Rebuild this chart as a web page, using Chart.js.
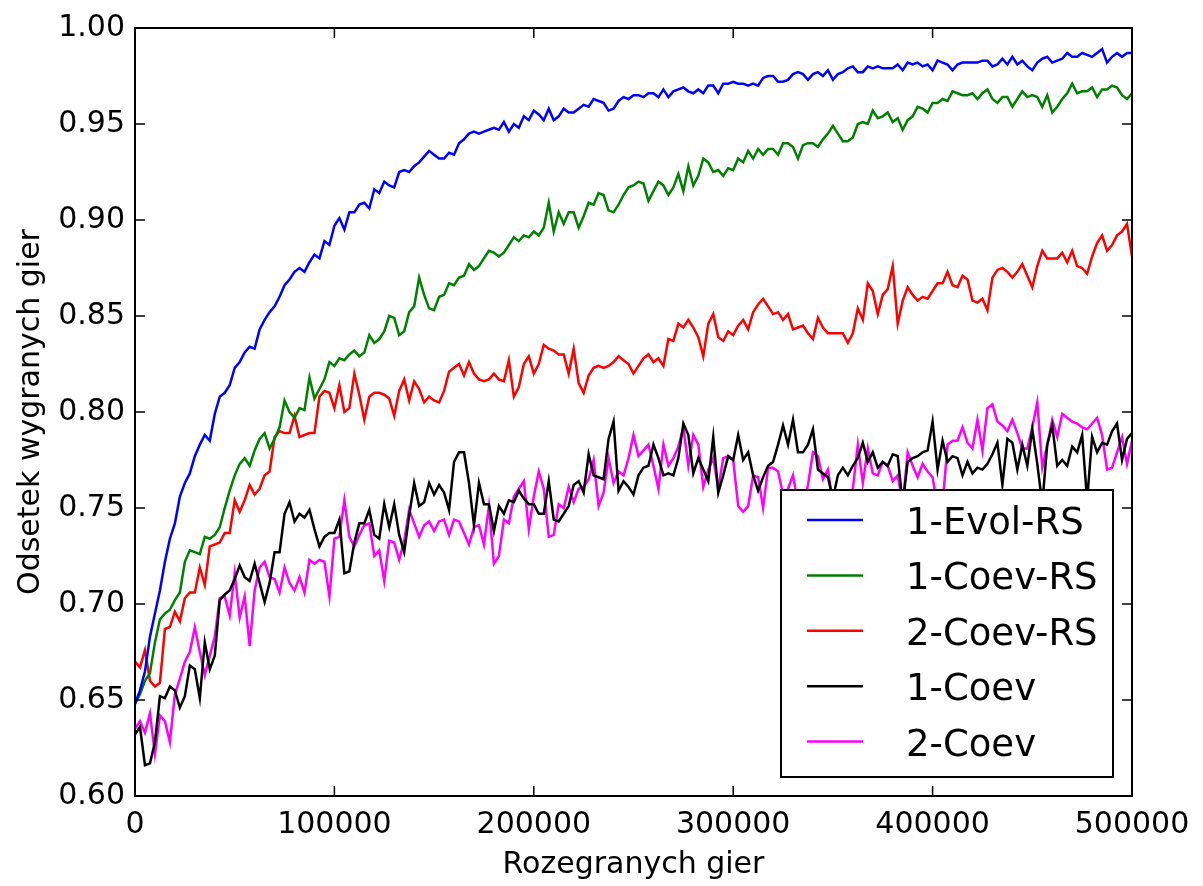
<!DOCTYPE html>
<html>
<head>
<meta charset="utf-8">
<script src="https://cdn.jsdelivr.net/npm/chart.js@4.4.0/dist/chart.umd.min.js"></script>
<style>
  html, body { margin: 0; padding: 0; background: #fff; }
  canvas { display: block; }
</style>
</head>
<body>
<canvas id="chart" width="1203" height="886"></canvas>
<script>
// one sample every 2500 games, 0 .. 500000
const sampleStep = 2500;
const xTicks = [0, 100000, 200000, 300000, 400000, 500000];
const yTicks = [0.60, 0.65, 0.70, 0.75, 0.80, 0.85, 0.90, 0.95, 1.00];
const seriesNames = ["1-Evol-RS", "1-Coev-RS", "2-Coev-RS", "1-Coev", "2-Coev"];
const seriesColors = ["#0000ff", "#008000", "#ff0000", "#000000", "#ff00ff"];

const evolRS1 = [
  0.648, 0.655, 0.665, 0.683, 0.695, 0.707, 0.722, 0.734, 0.742, 0.756,
  0.763, 0.768, 0.777, 0.783, 0.788, 0.785, 0.799, 0.808, 0.810, 0.814,
  0.823, 0.826, 0.831, 0.834, 0.833, 0.843, 0.848, 0.852, 0.855, 0.860,
  0.866, 0.869, 0.873, 0.875, 0.873, 0.878, 0.882, 0.880, 0.889, 0.887,
  0.897, 0.901, 0.895, 0.904, 0.904, 0.908, 0.909, 0.906, 0.916, 0.914,
  0.920, 0.918, 0.917, 0.925, 0.926, 0.925, 0.928, 0.930, 0.933, 0.936,
  0.934, 0.932, 0.932, 0.935, 0.934, 0.940, 0.942, 0.945, 0.946, 0.945,
  0.946, 0.947, 0.948, 0.947, 0.951, 0.946, 0.950, 0.948, 0.954, 0.952,
  0.957, 0.955, 0.952, 0.958, 0.952, 0.954, 0.958, 0.956, 0.956, 0.958,
  0.960, 0.959, 0.963, 0.962, 0.961, 0.957, 0.958, 0.962, 0.964, 0.963,
  0.965, 0.965, 0.964, 0.966, 0.966, 0.964, 0.968, 0.964, 0.967, 0.968,
  0.969, 0.967, 0.966, 0.968, 0.966, 0.970, 0.970, 0.966, 0.971, 0.971,
  0.972, 0.971, 0.971, 0.970, 0.971, 0.970, 0.974, 0.975, 0.975, 0.972,
  0.972, 0.973, 0.976, 0.977, 0.976, 0.973, 0.976, 0.977, 0.975, 0.978,
  0.973, 0.976, 0.977, 0.979, 0.980, 0.977, 0.977, 0.980, 0.979, 0.980,
  0.979, 0.979, 0.979, 0.981, 0.978, 0.982, 0.981, 0.982, 0.980, 0.981,
  0.978, 0.983, 0.982, 0.981, 0.978, 0.981, 0.982, 0.982, 0.982, 0.982,
  0.983, 0.983, 0.980, 0.981, 0.984, 0.981, 0.985, 0.981, 0.983, 0.980,
  0.978, 0.982, 0.984, 0.985, 0.982, 0.983, 0.984, 0.987, 0.985, 0.985,
  0.987, 0.986, 0.985, 0.987, 0.989, 0.982, 0.985, 0.987, 0.985, 0.987,
  0.987
];

const coevRS1 = [
  0.648, 0.653, 0.660, 0.664, 0.680, 0.692, 0.695, 0.697, 0.702, 0.706,
  0.722, 0.728, 0.727, 0.726, 0.735, 0.734, 0.736, 0.740, 0.750, 0.759,
  0.767, 0.773, 0.776, 0.772, 0.780, 0.786, 0.789, 0.781, 0.786, 0.792,
  0.806, 0.800, 0.797, 0.802, 0.801, 0.818, 0.807, 0.812, 0.817, 0.826,
  0.824, 0.828, 0.827, 0.830, 0.832, 0.829, 0.831, 0.840, 0.836, 0.838,
  0.842, 0.850, 0.849, 0.840, 0.842, 0.852, 0.855, 0.870, 0.861, 0.854,
  0.853, 0.860, 0.861, 0.867, 0.866, 0.870, 0.871, 0.877, 0.874, 0.876,
  0.880, 0.884, 0.883, 0.881, 0.883, 0.887, 0.891, 0.889, 0.892, 0.891,
  0.894, 0.892, 0.896, 0.909, 0.894, 0.904, 0.898, 0.904, 0.904, 0.896,
  0.902, 0.909, 0.908, 0.914, 0.913, 0.905, 0.904, 0.908, 0.913, 0.917,
  0.918, 0.920, 0.919, 0.910, 0.915, 0.920, 0.918, 0.913, 0.917, 0.924,
  0.915, 0.928, 0.918, 0.923, 0.932, 0.930, 0.925, 0.926, 0.923, 0.927,
  0.926, 0.932, 0.930, 0.936, 0.932, 0.937, 0.934, 0.937, 0.937, 0.934,
  0.940, 0.940, 0.938, 0.932, 0.939, 0.940, 0.940, 0.938, 0.942, 0.945,
  0.949, 0.945, 0.941, 0.941, 0.943, 0.950, 0.951, 0.950, 0.957, 0.953,
  0.954, 0.956, 0.951, 0.953, 0.947, 0.952, 0.954, 0.959, 0.958, 0.956,
  0.961, 0.961, 0.963, 0.962, 0.967, 0.966, 0.965, 0.965, 0.966, 0.963,
  0.966, 0.968, 0.963, 0.961, 0.964, 0.964, 0.959, 0.963, 0.967, 0.964,
  0.965, 0.964, 0.959, 0.965, 0.956, 0.959, 0.963, 0.966, 0.971, 0.966,
  0.967, 0.967, 0.969, 0.964, 0.968, 0.968, 0.970, 0.969, 0.965, 0.963,
  0.966
];

const coevRS2 = [
  0.670, 0.667, 0.676, 0.660, 0.657, 0.659, 0.687, 0.688, 0.696, 0.691,
  0.703, 0.706, 0.706, 0.719, 0.710, 0.730, 0.731, 0.732, 0.737, 0.737,
  0.754, 0.748, 0.754, 0.762, 0.757, 0.760, 0.767, 0.769, 0.787, 0.790,
  0.789, 0.789, 0.798, 0.787, 0.788, 0.789, 0.789, 0.808, 0.811, 0.810,
  0.802, 0.814, 0.800, 0.802, 0.820, 0.809, 0.796, 0.808, 0.810, 0.810,
  0.809, 0.807, 0.798, 0.811, 0.817, 0.806, 0.816, 0.812, 0.805, 0.808,
  0.806, 0.805, 0.811, 0.821, 0.823, 0.825, 0.819, 0.826, 0.820, 0.817,
  0.816, 0.817, 0.820, 0.817, 0.816, 0.827, 0.808, 0.813, 0.825, 0.829,
  0.820, 0.825, 0.835, 0.833, 0.832, 0.830, 0.830, 0.820, 0.833, 0.815,
  0.810, 0.819, 0.823, 0.824, 0.823, 0.824, 0.826, 0.829, 0.827, 0.825,
  0.820, 0.824, 0.828, 0.830, 0.826, 0.828, 0.824, 0.838, 0.837, 0.846,
  0.844, 0.848, 0.844, 0.839, 0.829, 0.846, 0.851, 0.839, 0.837, 0.842,
  0.840, 0.845, 0.848, 0.843, 0.852, 0.856, 0.859, 0.855, 0.851, 0.852,
  0.848, 0.851, 0.843, 0.844, 0.845, 0.841, 0.838, 0.849, 0.844, 0.841,
  0.841, 0.841, 0.841, 0.836, 0.841, 0.854, 0.848, 0.867, 0.863, 0.851,
  0.861, 0.864, 0.876, 0.846, 0.858, 0.865, 0.861, 0.858, 0.860, 0.859,
  0.863, 0.867, 0.867, 0.873, 0.866, 0.865, 0.871, 0.869, 0.858, 0.857,
  0.859, 0.853, 0.870, 0.874, 0.875, 0.873, 0.870, 0.873, 0.877, 0.871,
  0.865, 0.876, 0.884, 0.880, 0.880, 0.880, 0.883, 0.878, 0.884, 0.876,
  0.875, 0.872, 0.881, 0.888, 0.892, 0.884, 0.887, 0.892, 0.894, 0.898,
  0.881
];

const coev1 = [
  0.632, 0.636, 0.616, 0.617, 0.628, 0.652, 0.651, 0.657, 0.655, 0.646,
  0.652, 0.668, 0.666, 0.651, 0.680, 0.666, 0.673, 0.702, 0.705, 0.707,
  0.713, 0.720, 0.714, 0.712, 0.721, 0.711, 0.701, 0.711, 0.727, 0.727,
  0.747, 0.753, 0.743, 0.747, 0.745, 0.749, 0.739, 0.730, 0.735, 0.737,
  0.737, 0.744, 0.716, 0.717, 0.732, 0.742, 0.742, 0.749, 0.736, 0.734,
  0.752, 0.740, 0.752, 0.736, 0.727, 0.746, 0.763, 0.751, 0.753, 0.763,
  0.757, 0.762, 0.758, 0.749, 0.774, 0.779, 0.779, 0.763, 0.741, 0.763,
  0.752, 0.752, 0.738, 0.751, 0.747, 0.754, 0.753, 0.759, 0.755, 0.752,
  0.752, 0.747, 0.747, 0.764, 0.744, 0.743, 0.747, 0.751, 0.762, 0.764,
  0.758, 0.778, 0.767, 0.766, 0.765, 0.786, 0.795, 0.759, 0.764, 0.761,
  0.757, 0.767, 0.771, 0.772, 0.783, 0.776, 0.767, 0.768, 0.767, 0.776,
  0.794, 0.788, 0.768, 0.776, 0.770, 0.764, 0.787, 0.758, 0.767, 0.777,
  0.775, 0.788, 0.775, 0.779, 0.767, 0.759, 0.766, 0.772, 0.774, 0.783,
  0.793, 0.783, 0.796, 0.779, 0.779, 0.783, 0.791, 0.770, 0.768, 0.766,
  0.755, 0.767, 0.771, 0.767, 0.772, 0.776, 0.784, 0.774, 0.779, 0.771,
  0.774, 0.772, 0.778, 0.777, 0.752, 0.774, 0.776, 0.777, 0.779, 0.780,
  0.795, 0.770, 0.785, 0.774, 0.777, 0.776, 0.767, 0.774, 0.768, 0.771,
  0.770, 0.773, 0.778, 0.784, 0.762, 0.786, 0.784, 0.770, 0.783, 0.772,
  0.791, 0.773, 0.752, 0.783, 0.793, 0.772, 0.775, 0.772, 0.782, 0.779,
  0.788, 0.754, 0.787, 0.779, 0.784, 0.783, 0.790, 0.794, 0.775, 0.786,
  0.789
];

const coev2 = [
  0.635, 0.639, 0.633, 0.643, 0.622, 0.642, 0.639, 0.628, 0.653, 0.661,
  0.670, 0.675, 0.688, 0.675, 0.663, 0.673, 0.683, 0.703, 0.704, 0.694,
  0.716, 0.693, 0.704, 0.678, 0.707, 0.719, 0.722, 0.714, 0.713, 0.706,
  0.719, 0.711, 0.707, 0.714, 0.706, 0.723, 0.721, 0.723, 0.722, 0.704,
  0.734, 0.735, 0.754, 0.735, 0.730, 0.736, 0.741, 0.742, 0.725, 0.728,
  0.712, 0.733, 0.732, 0.723, 0.733, 0.749, 0.742, 0.735, 0.741, 0.743,
  0.738, 0.743, 0.744, 0.736, 0.744, 0.743, 0.737, 0.731, 0.740, 0.741,
  0.731, 0.751, 0.721, 0.725, 0.744, 0.742, 0.756, 0.760, 0.764, 0.739,
  0.756, 0.769, 0.760, 0.735, 0.736, 0.752, 0.750, 0.761, 0.753, 0.760,
  0.761, 0.765, 0.775, 0.751, 0.758, 0.776, 0.763, 0.769, 0.767, 0.776,
  0.788, 0.777, 0.780, 0.783, 0.772, 0.760, 0.783, 0.772, 0.776, 0.782,
  0.792, 0.772, 0.788, 0.783, 0.761, 0.770, 0.776, 0.760, 0.776, 0.777,
  0.775, 0.751, 0.748, 0.751, 0.767, 0.766, 0.750, 0.771, 0.771, 0.769,
  0.757, 0.760, 0.767, 0.752, 0.750, 0.762, 0.779, 0.777, 0.765, 0.770,
  0.752, 0.750, 0.757, 0.753, 0.760, 0.783, 0.763, 0.781, 0.768, 0.767,
  0.774, 0.772, 0.764, 0.767, 0.752, 0.779, 0.772, 0.766, 0.773, 0.769,
  0.766, 0.750, 0.752, 0.783, 0.785, 0.785, 0.792, 0.784, 0.781, 0.796,
  0.780, 0.802, 0.804, 0.795, 0.793, 0.790, 0.796, 0.789, 0.781, 0.781,
  0.792, 0.805, 0.771, 0.783, 0.796, 0.787, 0.799, 0.797, 0.795, 0.794,
  0.792, 0.791, 0.794, 0.797, 0.788, 0.770, 0.771, 0.779, 0.787, 0.773,
  0.785
];

const games = evolRS1.map((_, i) => i * sampleStep);
const allSeries = [evolRS1, coevRS1, coevRS2, coev1, coev2];

const FONT = "DejaVu Sans";
const TICK_LEN = 10;
const LINE_W = 2.5;

// inward ticks on all four sides + black frame (matplotlib classic look)
const framePlugin = {
  id: "frame",
  afterDatasetsDraw(chart) {
    const { ctx, chartArea: a, scales } = chart;
    ctx.save();
    ctx.strokeStyle = "#000";
    ctx.lineWidth = 1.5;
    ctx.beginPath();
    xTicks.forEach(v => {
      const px = scales.x.getPixelForValue(v);
      ctx.moveTo(px, a.bottom); ctx.lineTo(px, a.bottom - TICK_LEN);
      ctx.moveTo(px, a.top); ctx.lineTo(px, a.top + TICK_LEN);
    });
    yTicks.forEach(v => {
      const py = scales.y.getPixelForValue(v);
      ctx.moveTo(a.left, py); ctx.lineTo(a.left + TICK_LEN, py);
      ctx.moveTo(a.right, py); ctx.lineTo(a.right - TICK_LEN, py);
    });
    ctx.stroke();
    ctx.lineWidth = 2;
    ctx.strokeRect(a.left, a.top, a.right - a.left, a.bottom - a.top);
    ctx.restore();
  }
};

// legend box in the lower right corner, drawn over the lines
const legendPlugin = {
  id: "boxLegend",
  afterDraw(chart) {
    const { ctx, chartArea: a } = chart;
    const w = 332, h = 287;
    const right = a.right - 19, bottom = a.bottom - 19;
    const left = right - w, top = bottom - h;
    ctx.save();
    ctx.fillStyle = "#fff";
    ctx.fillRect(left, top, w, h);
    ctx.strokeStyle = "#000";
    ctx.lineWidth = 2;
    ctx.strokeRect(left, top, w, h);
    ctx.font = "37px '" + FONT + "'";
    ctx.textBaseline = "alphabetic";
    ctx.textAlign = "left";
    chart.data.datasets.forEach((ds, i) => {
      const yy = top + 30 + i * 55.4;
      ctx.strokeStyle = ds.borderColor;
      ctx.lineWidth = LINE_W;
      ctx.beginPath();
      ctx.moveTo(left + 26, yy);
      ctx.lineTo(left + 82, yy);
      ctx.stroke();
      ctx.fillStyle = "#000";
      ctx.fillText(ds.label, left + 125, yy + 14);
    });
    ctx.restore();
  }
};

const ctx = document.getElementById("chart").getContext("2d");
new Chart(ctx, {
  type: "line",
  data: {
    labels: games,
    datasets: allSeries.map((vals, i) => ({
      label: seriesNames[i],
      data: vals.map((v, j) => ({ x: games[j], y: v })),
      borderColor: seriesColors[i],
      backgroundColor: seriesColors[i],
      borderWidth: LINE_W,
      pointRadius: 0,
      tension: 0,
      fill: false
    }))
  },
  options: {
    responsive: false,
    animation: false,
    devicePixelRatio: 1,
    layout: { padding: { left: 0, right: 71, top: 25, bottom: 0 } },
    plugins: {
      legend: { display: false },
      tooltip: { enabled: false }
    },
    scales: {
      x: {
        type: "linear",
        min: 0,
        max: 500000,
        afterBuildTicks: s => { s.ticks = xTicks.map(v => ({ value: v })); },
        afterFit: s => { s.height = 90; },
        grid: { display: false, drawTicks: false },
        border: { display: false },
        ticks: {
          color: "#000",
          font: { family: FONT, size: 30 },
          padding: 11,
          maxRotation: 0,
          autoSkip: false,
          callback: v => String(v)
        },
        title: {
          display: true,
          text: "Rozegranych gier",
          color: "#000",
          font: { family: FONT, size: 30 },
          padding: { top: 0, bottom: 3 }
        }
      },
      y: {
        type: "linear",
        min: 0.6,
        max: 1.0,
        afterBuildTicks: s => { s.ticks = yTicks.map(v => ({ value: v })); },
        afterFit: s => { s.width = 135; },
        grid: { display: false, drawTicks: false },
        border: { display: false },
        ticks: {
          color: "#000",
          font: { family: FONT, size: 30 },
          padding: 10,
          callback: v => v.toFixed(2)
        },
        title: {
          display: true,
          text: "Odsetek wygranych gier",
          color: "#000",
          font: { family: FONT, size: 30 },
          padding: { top: 13, bottom: 0 }
        }
      }
    }
  },
  plugins: [framePlugin, legendPlugin]
});
</script>
</body>
</html>
